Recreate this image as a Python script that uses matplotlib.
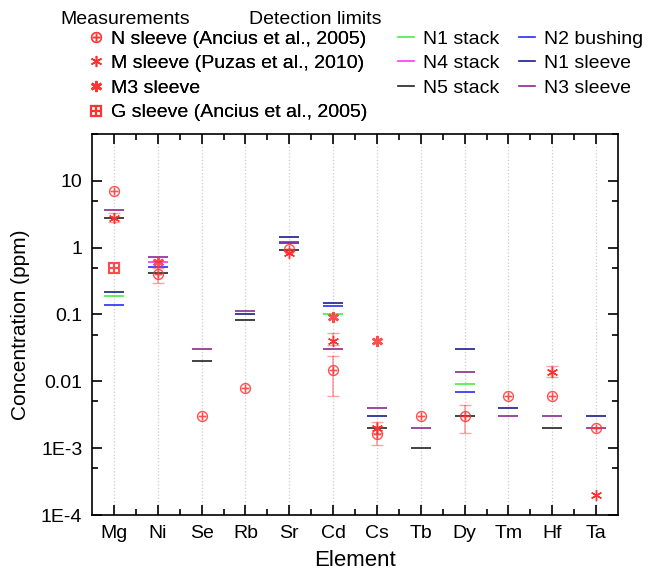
import numpy as np
import matplotlib
matplotlib.use("Agg")
import matplotlib.pyplot as plt
from matplotlib.ticker import FixedLocator, LogLocator, NullFormatter
from matplotlib.lines import Line2D

plt.rcParams["font.family"] = ["Liberation Sans", "DejaVu Sans"]

nan = np.nan
elements = ["Mg", "Ni", "Se", "Rb", "Sr", "Cd", "Cs", "Tb", "Dy", "Tm", "Hf", "Ta"]

# measurements (ppm)
n_sleeve = [7, 0.4, 0.003, 0.008, 0.96, 0.015, 0.0016, 0.003, 0.003, 0.006, 0.006, 0.002]
n_sleeve_lo = [nan, 0.3, nan, nan, nan, 0.006, 0.0011, nan, 0.0017, nan, nan, nan]
n_sleeve_hi = [nan, 0.5, nan, nan, nan, 0.024, 0.0021, nan, 0.0044, nan, nan, nan]
m_sleeve = [2.8, nan, nan, nan, 0.83, 0.04, 0.002, nan, nan, nan, 0.014, 0.0002]
m_sleeve_lo = [2.4, nan, nan, nan, nan, 0.035, 0.0017, nan, nan, nan, 0.0115, nan]
m_sleeve_hi = [3.3, nan, nan, nan, nan, 0.053, 0.0025, nan, nan, nan, 0.017, nan]
m3_sleeve = [nan, 0.6, nan, nan, nan, 0.09, 0.04, nan, nan, nan, nan, nan]
g_sleeve = [0.5, nan, nan, nan, nan, nan, nan, nan, nan, nan, nan, nan]

# detection limits (ppm)
n1_stack = [0.19, nan, nan, nan, nan, 0.1, nan, nan, 0.009, nan, nan, nan]
n4_stack = [nan, 0.6, nan, nan, nan, nan, nan, nan, nan, nan, nan, nan]
n5_stack = [2.8, 0.41, 0.02, 0.082, 0.92, nan, 0.002, 0.001, 0.003, nan, 0.002, nan]
n2_bushing = [0.14, 0.51, nan, nan, 1.16, 0.135, nan, nan, 0.007, nan, nan, nan]
n1_sleeve = [0.22, nan, nan, 0.1, 1.43, 0.15, 0.003, nan, 0.03, 0.004, nan, 0.003]
n3_sleeve = [3.7, 0.72, 0.03, 0.113, 1.22, 0.03, 0.004, 0.002, 0.014, 0.003, 0.003, 0.002]

x = np.arange(1, len(elements) + 1)

fig = plt.figure(figsize=(6.48, 5.72), dpi=100)
ax = fig.add_axes([92 / 648, 1 - 515 / 572, 526 / 648, 381 / 572])

red = "#ff3030"

limits = [
    ("N1 stack", n1_stack, "#44ee44"),
    ("N4 stack", n4_stack, "#ff33ff"),
    ("N5 stack", n5_stack, "#222222"),
    ("N2 bushing", n2_bushing, "#2a2aff"),
    ("N1 sleeve", n1_sleeve, "#1a1a8c"),
    ("N3 sleeve", n3_sleeve, "#8a2a8a"),
]
lim_handles = []
for name, vals, col in limits:
    ax.plot(x, vals, ls="none", marker="_", ms=14, mew=1.4, color=col, alpha=0.85, zorder=2)
    lim_handles.append(Line2D([], [], color=col, lw=1.2, label=name))


def err(v, lo, hi):
    v = np.array(v, float)
    return [v - np.array(lo, float), np.array(hi, float) - v]


ax.errorbar(x, n_sleeve, yerr=err(n_sleeve, n_sleeve_lo, n_sleeve_hi), fmt="none",
            ecolor=red, alpha=0.45, elinewidth=1.2, capsize=4, zorder=3)
ax.errorbar(x, m_sleeve, yerr=err(m_sleeve, m_sleeve_lo, m_sleeve_hi), fmt="none",
            ecolor=red, alpha=0.45, elinewidth=1.2, capsize=4, zorder=3)

h1, = ax.plot(x, n_sleeve, ls="none", marker="$\u2295$", ms=8, color=red, mew=0.1,
              alpha=0.85, zorder=4, label="N sleeve (Ancius et al., 2005)")
h2, = ax.plot(x, m_sleeve, ls="none", marker=(6, 2, 0), ms=8, mew=1.0, color=red,
              zorder=4, label="M sleeve (Puzas et al., 2010)")
h3, = ax.plot(x, m3_sleeve, ls="none", marker=(6, 2, 0), ms=8, mew=1.8, color=red,
              alpha=0.85, zorder=4, label="M3 sleeve")
h4, = ax.plot(x, g_sleeve, ls="none", marker="$\u229e$", ms=8, color=red, mew=0.1,
              alpha=0.85, zorder=4, label="G sleeve (Ancius et al., 2005)")

ax.set_yscale("log")
ax.set_ylim(1e-4, 50)
ax.set_xlim(0.5, len(elements) + 0.5)
ax.set_yticks([10, 1, 0.1, 0.01, 1e-3, 1e-4])
ax.set_yticklabels(["10", "1", "0.1", "0.01", "1E-3", "1E-4"])
ax.yaxis.set_minor_locator(LogLocator(base=10, subs=[5]))
ax.yaxis.set_minor_formatter(NullFormatter())
ax.set_xticks(x)
ax.set_xticklabels(elements)
ax.xaxis.set_minor_locator(FixedLocator(x[:-1] + 0.5))
ax.tick_params(which="both", direction="in", top=True, right=True, labelsize=14, width=1.2)
ax.tick_params(which="major", length=7, pad=7)
ax.tick_params(which="minor", length=4)
for s in ax.spines.values():
    s.set_linewidth(1.2)
ax.grid(axis="x", which="major", color="#cccccc", ls=":", lw=0.9)
ax.set_axisbelow(True)
ax.set_xlabel("Element", fontsize=16, labelpad=6)
ax.set_ylabel("Concentration (ppm)", fontsize=15, labelpad=8)

# legends
fig.text(60 / 648, 1 - 19 / 572, "Measurements", fontsize=14, va="center", ha="left")
fig.text(249 / 648, 1 - 19 / 572, "Detection limits", fontsize=14, va="center", ha="left")
leg1 = fig.legend(handles=[h1, h2, h3, h4], loc="upper left",
                  bbox_to_anchor=(86 / 648, 1 - 30 / 572), frameon=False, fontsize=14,
                  handlelength=1.0, handletextpad=0.3, labelspacing=0.36, borderpad=0,
                  borderaxespad=0)
fig.add_artist(leg1)
fig.legend(handles=lim_handles, loc="upper left", ncol=2,
           bbox_to_anchor=(398 / 648, 1 - 30 / 572), frameon=False, fontsize=14,
           handlelength=0.8, handletextpad=0.5, labelspacing=0.36, columnspacing=1.0,
           borderpad=0, borderaxespad=0)

fig.savefig("out.png", dpi=100)
